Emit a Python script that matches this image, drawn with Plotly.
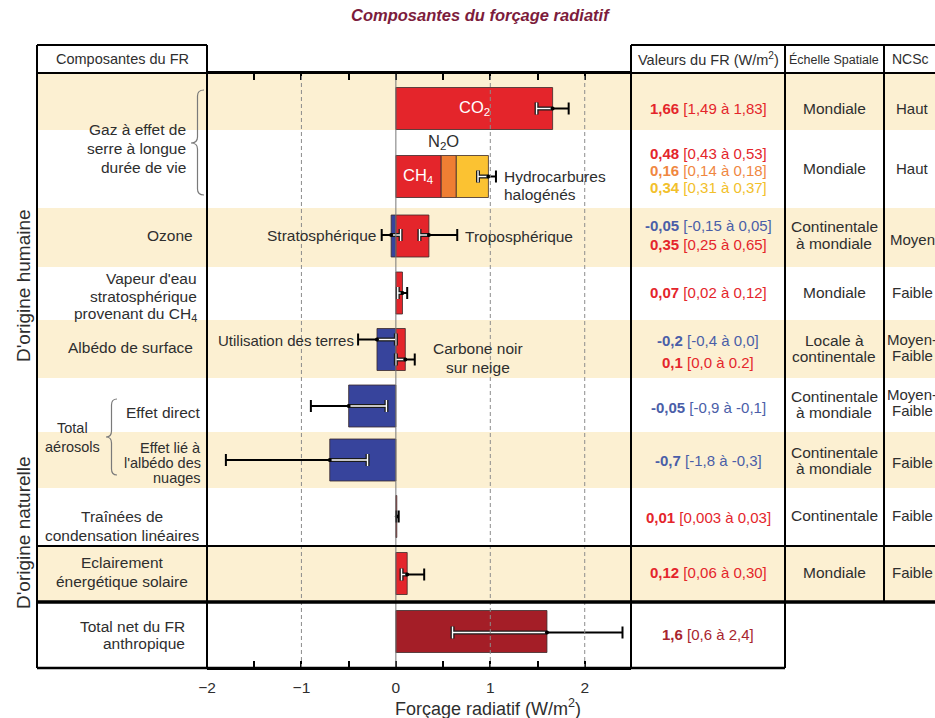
import plotly.graph_objects as go

# ======================= DATA =======================
bar_labels = ["CO₂", "CH₄", "N₂O", "Hydrocarbures halogénés", "Ozone stratosphérique",
              "Ozone troposphérique", "Vapeur d'eau stratosphérique", "Utilisation des terres",
              "Carbone noir sur neige", "Aérosols : effet direct", "Aérosols : albédo des nuages",
              "Traînées de condensation", "Éclairement solaire", "Total net anthropique"]
bar_values = [1.66, 0.48, 0.16, 0.34, -0.05, 0.35, 0.07, -0.20, 0.10, -0.50, -0.70, 0.01, 0.12, 1.60]
bar_rows = [0, 1, 1, 1, 2, 2, 3, 4, 4, 5, 6, 7, 8, 9]

err_best = [1.66, 0.98, -0.05, 0.35, 0.07, -0.20, 0.10, -0.50, -0.70, 0.01, 0.12, 1.60]
err_low = [1.49, 0.87, -0.15, 0.25, 0.02, -0.40, 0.00, -0.90, -1.80, 0.003, 0.06, 0.60]
err_high = [1.83, 1.06, 0.05, 0.65, 0.12, 0.00, 0.20, -0.10, -0.30, 0.03, 0.30, 2.40]
err_rows = [0, 1, 2, 2, 3, 4, 4, 5, 6, 7, 8, 9]

x_tick_values = [-2, -1, 0, 1, 2]
dashed_x = [-1, 1, 2]

component_labels = ["Gaz à effet de<br>serre à longue<br>durée de vie", "Ozone",
                    "Vapeur d'eau<br>stratosphérique<br>provenant du CH<sub>4</sub>",
                    "Albédo de surface", "Effet direct", "Effet lié à<br>l'albédo des<br>nuages",
                    "Traînées de<br>condensation linéaires", "Eclairement<br>énergétique solaire",
                    "Total net du FR<br>anthropique"]
aerosol_label = "Total<br>aérosols"

fr_best = ["1,66", "0,48", "0,16", "0,34", "-0,05", "0,35", "0,07", "-0,2", "0,1",
           "-0,05", "-0,7", "0,01", "0,12", "1,6"]
fr_range = ["[1,49 à 1,83]", "[0,43 à 0,53]", "[0,14 à 0,18]", "[0,31 à 0,37]",
            "[-0,15 à 0,05]", "[0,25 à 0,65]", "[0,02 à 0,12]", "[-0,4 à 0,0]", "[0,0 à 0.2]",
            "[-0,9 à -0,1]", "[-1,8 à -0,3]", "[0,003 à 0,03]", "[0,06 à 0,30]", "[0,6 à 2,4]"]

spatial_scale = ["Mondiale", "Mondiale", "Continentale<br>à mondiale", "Mondiale",
                 "Locale à<br>continentale", "Continentale<br>à mondiale",
                 "Continentale<br>à mondiale", "Continentale", "Mondiale"]
ncsc_level = ["Haut", "Haut", "Moyen", "Faible", "Moyen-<br>Faible", "Moyen-<br>Faible",
              "Faible", "Faible", "Faible"]

# ======================= LAYOUT / STYLE =======================
FIG_W, FIG_H = 935, 718
PL, PR, PT, PB = 207, 631, 73, 668
FONT = "Liberation Sans, Arial, sans-serif"
TXT = "#2e2e2e"
BEIGE = "#fcf0d2"
RED, ORANGE, YELLOW, BLUE, DRED = "#e4252b", "#ef7e33", "#fbc232", "#37449c", "#a41e27"
bar_colors = [RED, RED, ORANGE, YELLOW, BLUE, RED, RED, BLUE, RED, BLUE, BLUE, RED, RED, DRED]
fr_colors = [RED, RED, "#f0873f", "#f2c02a", "#4a5ea8", RED, RED, "#4a5ea8", RED,
             "#4a5ea8", "#4a5ea8", RED, RED, "#a8242e"]
fr_line_px = [108, 153, 170, 187, 225, 244, 292, 340, 362, 407, 460, 517, 572, 634]

row_edges_px = [73, 130, 208, 267, 320, 378, 432, 488, 546, 602, 668]
beige_rows = [0, 2, 4, 6, 8]
bar_center_px = [108.5, 176.5, 236, 293, 349.5, 406, 460, 516.5, 573.5, 631.5]
BAR_H = 42
err_dy_px = [0, 0, -1, -1, 0, -10, 10, 0, 0, 0, 1, 1]
CAP = 6

label_x_px = [188, 195, 199, 195, 203, 203, 122, 122, 187]
label_anchor = ["right", "right", "right", "right", "right", "right", "center", "center", "right"]
label_y_px = [148, 235, 296, 347, 412, 463, 525.5, 571.5, 634.5]
label_gap = [19, 19, 18, 19, 19, 15, 19, 19, 17]

scale_y_px = [108, 168, 235, 292, 348, 404, 460, 515, 572]
ncsc_y_px = [108, 168, 239, 292, 347, 402, 462, 515, 572]


def px(x):
    return (x - PL) / (PR - PL)


def py(y):
    return (PB - y) / (PB - PT)


def yd(y):  # pixel -> y data unit (reversed axis)
    return y - PT


shapes = []
annotations = []


def hline(x0, x1, y, w=2, color="black", layer="above"):
    shapes.append(dict(type="line", xref="paper", yref="paper", x0=px(x0), x1=px(x1),
                       y0=py(y), y1=py(y), line=dict(color=color, width=w), layer=layer))


def vline(x, y0, y1, w=2, color="black", layer="above"):
    shapes.append(dict(type="line", xref="paper", yref="paper", x0=px(x), x1=px(x),
                       y0=py(y0), y1=py(y1), line=dict(color=color, width=w), layer=layer))


def text(x, y, s, size=15, color=TXT, anchor="center", **kw):
    annotations.append(dict(x=px(x), y=py(y), xref="paper", yref="paper", text=s,
                            showarrow=False, xanchor=anchor, yanchor="middle",
                            font=dict(family=FONT, size=size, color=color), **kw))


def multiline(x, yc, s, gap, size=15, color=TXT, anchor="center"):
    lines = s.split("<br>")
    n = len(lines)
    for i, ln in enumerate(lines):
        text(x, yc + (i - (n - 1) / 2) * gap, ln, size=size, color=color, anchor=anchor)


def brace(xe, xt, yt, ytip, yb):
    xm = (xe + xt) / 2
    r = 6
    pts = [("M", xe, yt), ("Q", xm, yt, xm, yt + r), ("L", xm, ytip - r),
           ("Q", xm, ytip, xt, ytip), ("Q", xm, ytip, xm, ytip + r), ("L", xm, yb - r),
           ("Q", xm, yb, xe, yb)]
    path = ""
    for p in pts:
        cmd = p[0]
        coords = p[1:]
        pairs = []
        for k in range(0, len(coords), 2):
            pairs.append(f"{px(coords[k]):.5f},{py(coords[k + 1]):.5f}")
        path += cmd + " " + " ".join(pairs) + " "
    shapes.append(dict(type="path", xref="paper", yref="paper", path=path,
                       line=dict(color="#7a7a7a", width=1.2), layer="above"))


# ---- background stripes ----
for r in beige_rows:
    shapes.append(dict(type="rect", xref="paper", yref="paper", x0=px(37), x1=px(940),
                       y0=py(row_edges_px[r + 1]), y1=py(row_edges_px[r]),
                       fillcolor=BEIGE, line=dict(width=0), layer="below"))

# ---- grid lines in plot ----
for xv in dashed_x:
    shapes.append(dict(type="line", xref="x", yref="paper", x0=xv, x1=xv, y0=0, y1=1,
                       line=dict(color="#8c8c8c", width=1, dash="4px,3px"), layer="above"))
shapes.append(dict(type="line", xref="x", yref="paper", x0=0, x1=0, y0=0, y1=1,
                   line=dict(color="#777777", width=1), layer="above"))

# ---- table borders ----
hline(37, PL, 45)
hline(PR, 940, 45)
hline(37, 940, 73, 2)
hline(37, 940, 546, 2)
hline(37, 940, 602, 3.5)
hline(37, 785, 668, 2.5)
vline(37, 45, 668)
vline(PL, 45, 668)
vline(PR, 45, 668)
vline(785, 45, 668)
vline(884, 45, 602)

# ---- headers ----
text(122, 59, "Composantes du FR", size=14.5)
text(708, 59, "Valeurs du FR (W/m<sup>2</sup>)", size=14.5)
text(834, 59, "Échelle Spatiale", size=12.5)
text(910, 59, "NCSc", size=14)

# ---- title ----
text(480, 15, "<b><i>Composantes du forçage radiatif</i></b>", size=16.5, color="#7c1c3c")

# ---- side labels ----
text(23, 286, "D'origine humaine", size=19, textangle=-90)
text(23, 533, "D'origine naturelle", size=19, textangle=-90)

# ---- component labels ----
for lab, xx, anc, yy, g in zip(component_labels, label_x_px, label_anchor, label_y_px, label_gap):
    multiline(xx, yy, lab, g, size=15.5 if g > 15 else 14.5, anchor=anc)
multiline(72, 437.5, aerosol_label, 19, size=14.5)
brace(204, 191, 90, 143, 195)
brace(117, 106, 399, 437, 475)

# ---- valeurs column ----
for b, rg, c, yy in zip(fr_best, fr_range, fr_colors, fr_line_px):
    text(708, yy, f"<b>{b}</b> {rg}", size=15, color=c)

# ---- spatial scale / NCSc ----
for s, yy in zip(spatial_scale, scale_y_px):
    multiline(834, yy, s, 16, size=15.5)
for s, yy in zip(ncsc_level, ncsc_y_px):
    multiline(912, yy, s, 16, size=15)

# ---- in-plot labels ----
text(474, 108, "CO<sub>2</sub>", size=16.5, color="white")
text(443, 142, "N<sub>2</sub>O", size=16.5)
text(418, 176, "CH<sub>4</sub>", size=16.5, color="white")
text(502, 176, "Hydrocarbures", size=15.5, anchor="left")
text(502, 194, "halogénés", size=15.5, anchor="left")
text(378, 235, "Stratosphérique", size=15.5, anchor="right")
text(463, 236, "Troposphérique", size=15.5, anchor="left")
text(356, 340, "Utilisation des terres", size=15, anchor="right")
text(478, 348, "Carbone noir", size=15.5)
text(478, 367, "sur neige", size=15.5)

# ---- axis title ----
text(488, 707, "Forçage radiatif (W/m<sup>2</sup>)", size=18)

# ======================= TRACES =======================
fig = go.Figure()

# stacked bases for bars within each row
bases = []
pos_acc, neg_acc = {}, {}
for v, r in zip(bar_values, bar_rows):
    if v >= 0:
        b = pos_acc.get(r, 0.0)
        pos_acc[r] = b + v
    else:
        b = neg_acc.get(r, 0.0)
        neg_acc[r] = b + v
    bases.append(b)

row_lo, row_hi = {}, {}
for v, r, b in zip(bar_values, bar_rows, bases):
    lo, hi = min(b, b + v), max(b, b + v)
    row_lo[r] = min(row_lo.get(r, 0.0), lo)
    row_hi[r] = max(row_hi.get(r, 0.0), hi)

fig.add_trace(go.Bar(
    x=bar_values, base=bases, y=[yd(bar_center_px[r]) for r in bar_rows],
    orientation="h", width=BAR_H, hovertext=bar_labels, hoverinfo="text",
    marker=dict(color=bar_colors, line=dict(color="#3b2a2a", width=0.8)),
    showlegend=False))

# error bars
bx, by, ix, iy, cx, cy = [], [], [], [], [], []
for c, lo, hi, r, dy in zip(err_best, err_low, err_high, err_rows, err_dy_px):
    yc = yd(bar_center_px[r] + dy)
    bx += [lo, hi, None, lo, lo, None, hi, hi, None]
    by += [yc, yc, None, yc - CAP, yc + CAP, None, yc - CAP, yc + CAP, None]
    a, b = max(lo, row_lo[r]), min(hi, row_hi[r])
    if b > a:
        ix += [a, b, None]
        iy += [yc, yc, None]
    for e in (lo, hi):
        if row_lo[r] - 1e-9 <= e <= row_hi[r] + 1e-9 and (row_hi[r] - row_lo[r]) > 0.05:
            ix += [e, e, None]
            iy += [yc - CAP, yc + CAP, None]
    cx.append(c)
    cy.append(yc)

fig.add_trace(go.Scatter(x=bx, y=by, mode="lines", line=dict(color="black", width=2),
                         hoverinfo="skip", showlegend=False))
fig.add_trace(go.Scatter(x=ix, y=iy, mode="lines", line=dict(color="#1a1a1a", width=4),
                         hoverinfo="skip", showlegend=False))
fig.add_trace(go.Scatter(x=ix, y=iy, mode="lines", line=dict(color="white", width=1.4),
                         hoverinfo="skip", showlegend=False))
fig.add_trace(go.Scatter(x=cx, y=cy, mode="markers", marker=dict(color="black", size=4),
                         hoverinfo="skip", showlegend=False))

fig.update_layout(
    width=FIG_W, height=FIG_H,
    margin=dict(l=PL, r=FIG_W - PR, t=PT, b=FIG_H - PB, pad=0),
    paper_bgcolor="white", plot_bgcolor="rgba(0,0,0,0)",
    showlegend=False, barmode="overlay",
    shapes=shapes, annotations=annotations,
    font=dict(family=FONT, color=TXT),
    xaxis=dict(range=[-2, 2.49], tickvals=x_tick_values, ticks="inside", ticklen=7,
               tickwidth=1.5, tickcolor="black", showgrid=False, zeroline=False,
               showline=True, linewidth=2, linecolor="black", mirror="ticks",
               ticklabelstandoff=4,
               tickfont=dict(size=15.5, color=TXT, family=FONT),
               minor=dict(dtick=0.5, tick0=0, ticks="inside", ticklen=7, tickwidth=1.5,
                          tickcolor="black", showgrid=False)),
    yaxis=dict(range=[PB - PT, 0], visible=False, showgrid=False, zeroline=False,
               fixedrange=True),
)

fig.write_html(
    "out.html",
    config={"displayModeBar": False},
    post_script="document.body.style.margin='0';document.body.style.overflow='hidden';",
)
